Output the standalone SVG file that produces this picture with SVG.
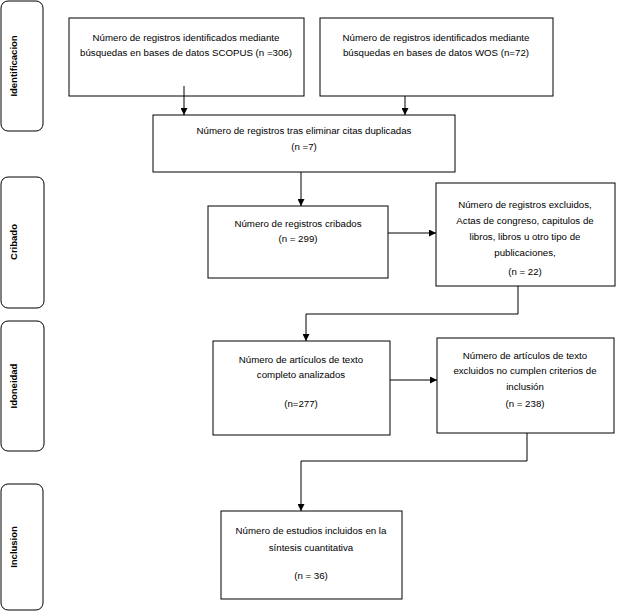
<svg xmlns="http://www.w3.org/2000/svg" width="618" height="613" viewBox="0 0 618 613">
<defs>
<marker id="ah" viewBox="0 0 10 10" refX="10" refY="5" markerWidth="7" markerHeight="7" markerUnits="userSpaceOnUse" orient="auto">
<path d="M0,0 L10,5 L0,10 z" fill="#000"/>
</marker>
<style>
.box{fill:#fff;stroke:#000;stroke-width:1}
.stage{fill:#fff;stroke:#000;stroke-width:1}
.t{font-family:"Liberation Sans",Arial,sans-serif;font-size:9.7px;fill:#000;text-anchor:middle}
.s{font-family:"Liberation Sans",Arial,sans-serif;font-size:9.5px;font-weight:bold;fill:#000;text-anchor:middle}
.c{fill:none;stroke:#000;stroke-width:1}
</style>
</defs>
<rect width="618" height="613" fill="#fff"/>
<g id="stage-identificacion">
<rect class="stage" x="1" y="1" width="42" height="130" rx="7"/>
<text class="s" transform="translate(17,66) rotate(-90)">Identificacion</text>
</g>
<g id="stage-cribado">
<rect class="stage" x="1" y="177" width="43" height="131" rx="7"/>
<text class="s" transform="translate(17,242) rotate(-90)">Cribado</text>
</g>
<g id="stage-idoneidad">
<rect class="stage" x="1" y="321" width="43" height="130" rx="7"/>
<text class="s" transform="translate(17,386) rotate(-90)">Idoneidad</text>
</g>
<g id="stage-inclusion">
<rect class="stage" x="1" y="484" width="42" height="126" rx="7"/>
<text class="s" transform="translate(17,547) rotate(-90)">Inclusion</text>
</g>
<g id="n-scopus">
<rect class="box" x="69" y="18" width="235" height="78"/>
<text class="t" x="186" y="41">Número de registros identificados mediante</text>
<text class="t" x="186" y="56">búsquedas en bases de datos SCOPUS (n =306)</text>
</g>
<g id="n-wos">
<rect class="box" x="320" y="18" width="233" height="78"/>
<text class="t" x="436" y="41">Número de registros identificados mediante</text>
<text class="t" x="436" y="56">búsquedas en bases de datos WOS (n=72)</text>
</g>
<g id="n-duplicadas">
<rect class="box" x="153" y="115" width="302" height="57"/>
<text class="t" x="304" y="134">Número de registros tras eliminar citas duplicadas</text>
<text class="t" x="304" y="150">(n =7)</text>
</g>
<g id="n-cribados">
<rect class="box" x="208" y="206" width="180" height="72"/>
<text class="t" x="298" y="227">Número de registros cribados</text>
<text class="t" x="298" y="242">(n = 299)</text>
</g>
<g id="n-excluidos">
<rect class="box" x="436" y="183" width="179" height="103"/>
<text class="t" x="525" y="208">Número de registros excluidos,</text>
<text class="t" x="525" y="224">Actas de congreso, capitulos de</text>
<text class="t" x="525" y="240">libros, libros u otro tipo de</text>
<text class="t" x="525" y="256">publicaciones,</text>
<text class="t" x="525" y="275">(n = 22)</text>
</g>
<g id="n-articulos">
<rect class="box" x="213" y="341" width="177" height="94"/>
<text class="t" x="301" y="363">Número de artículos de texto</text>
<text class="t" x="301" y="378">completo analizados</text>
<text class="t" x="301" y="407">(n=277)</text>
</g>
<g id="n-excluidos2">
<rect class="box" x="437" y="338" width="177" height="95"/>
<text class="t" x="525" y="359">Número de artículos de texto</text>
<text class="t" x="525" y="374">excluidos no cumplen criterios de</text>
<text class="t" x="525" y="390">inclusión</text>
<text class="t" x="525" y="407">(n = 238)</text>
</g>
<g id="n-incluidos">
<rect class="box" x="221" y="511" width="181" height="88"/>
<text class="t" x="311" y="534">Número de estudios incluidos en la</text>
<text class="t" x="311" y="551">síntesis cuantitativa</text>
<text class="t" x="311" y="579">(n = 36)</text>
</g>
<g id="connectors">
<path class="c" d="M184,86 V115" marker-end="url(#ah)"/>
<path class="c" d="M405,96 V115" marker-end="url(#ah)"/>
<path class="c" d="M301,172 V206" marker-end="url(#ah)"/>
<path class="c" d="M388,233 H436" marker-end="url(#ah)"/>
<path class="c" d="M518,286 V314 H306 V341" marker-end="url(#ah)"/>
<path class="c" d="M390,380 H437" marker-end="url(#ah)"/>
<path class="c" d="M527,433 V461 H301 V511" marker-end="url(#ah)"/>
</g>
</svg>
